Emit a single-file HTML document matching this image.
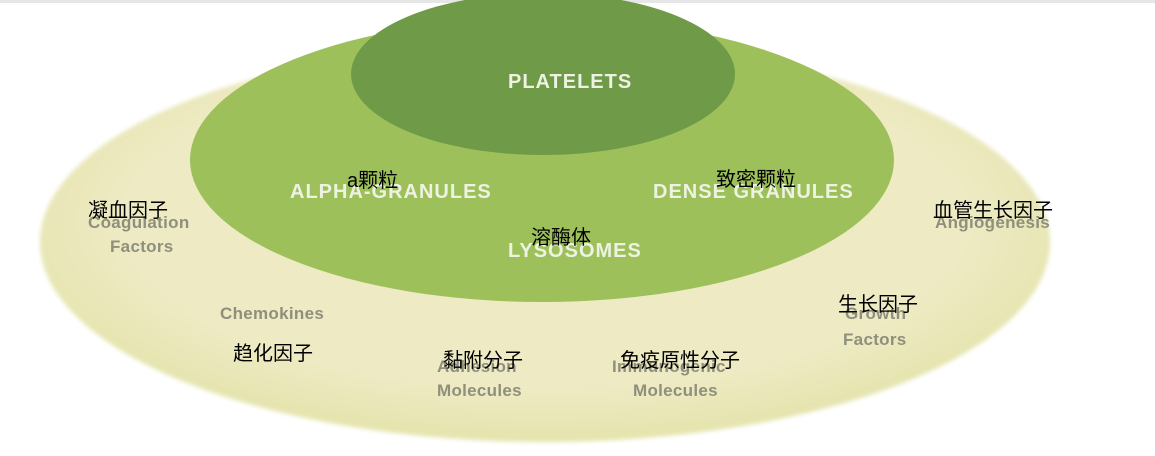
<!DOCTYPE html>
<html><head><meta charset="utf-8"><style>
html,body{margin:0;padding:0;width:1155px;height:456px;overflow:hidden;background:#fff;position:relative}
.t{position:absolute;white-space:nowrap;line-height:1}
.w{color:#eef2e2;font:bold 20px "Liberation Sans",sans-serif;letter-spacing:1px}
.g{color:#8e907c;font:bold 17px "Liberation Sans",sans-serif;letter-spacing:0.3px}
.c{color:#000;font:20px "Liberation Sans","Noto Sans CJK SC",sans-serif}
</style></head><body>
<div style="position:absolute;left:0;top:0;width:1155px;height:3px;background:#e6e6e6"></div>
<svg width="1155" height="456" style="position:absolute;left:0;top:0">
<defs>
<radialGradient id="o" cx="0.5" cy="0.45" r="0.55">
<stop offset="0.75" stop-color="#eeeac4"/><stop offset="1" stop-color="#e4e4ad"/></radialGradient>
<filter id="b"><feGaussianBlur stdDeviation="2"/></filter>
</defs>
<ellipse cx="545" cy="242" rx="505" ry="200" fill="url(#o)" filter="url(#b)"/>
<ellipse cx="542" cy="160" rx="352" ry="142" fill="#9dc05a"/>
<ellipse cx="543" cy="74" rx="192" ry="81" fill="#6f9a48"/>
</svg>
<div class="t w" style="left:508px;top:71px">PLATELETS</div>
<div class="t w" style="left:290px;top:181px">ALPHA-GRANULES</div>
<div class="t w" style="left:653px;top:181px">DENSE GRANULES</div>
<div class="t w" style="left:508px;top:240px">LYSOSOMES</div>
<div class="t g" style="left:88px;top:213px">Coagulation</div>
<div class="t g" style="left:110px;top:237px">Factors</div>
<div class="t g" style="left:220px;top:304px">Chemokines</div>
<div class="t g" style="left:437px;top:357px">Adhesion</div>
<div class="t g" style="left:437px;top:381px">Molecules</div>
<div class="t g" style="left:612px;top:357px">Immunogenic</div>
<div class="t g" style="left:633px;top:381px">Molecules</div>
<div class="t g" style="left:845px;top:304px">Growth</div>
<div class="t g" style="left:843px;top:330px">Factors</div>
<div class="t g" style="left:935px;top:213px">Angiogenesis</div>
<div class="t c" style="left:347px;top:164px">a颗粒</div>
<div class="t c" style="left:88px;top:194px">凝血因子</div>
<div class="t c" style="left:531px;top:221px">溶酶体</div>
<div class="t c" style="left:716px;top:163px">致密颗粒</div>
<div class="t c" style="left:933px;top:194px">血管生长因子</div>
<div class="t c" style="left:838px;top:288px">生长因子</div>
<div class="t c" style="left:233px;top:337px">趋化因子</div>
<div class="t c" style="left:443px;top:344px">黏附分子</div>
<div class="t c" style="left:620px;top:344px">免疫原性分子</div>
</body></html>
